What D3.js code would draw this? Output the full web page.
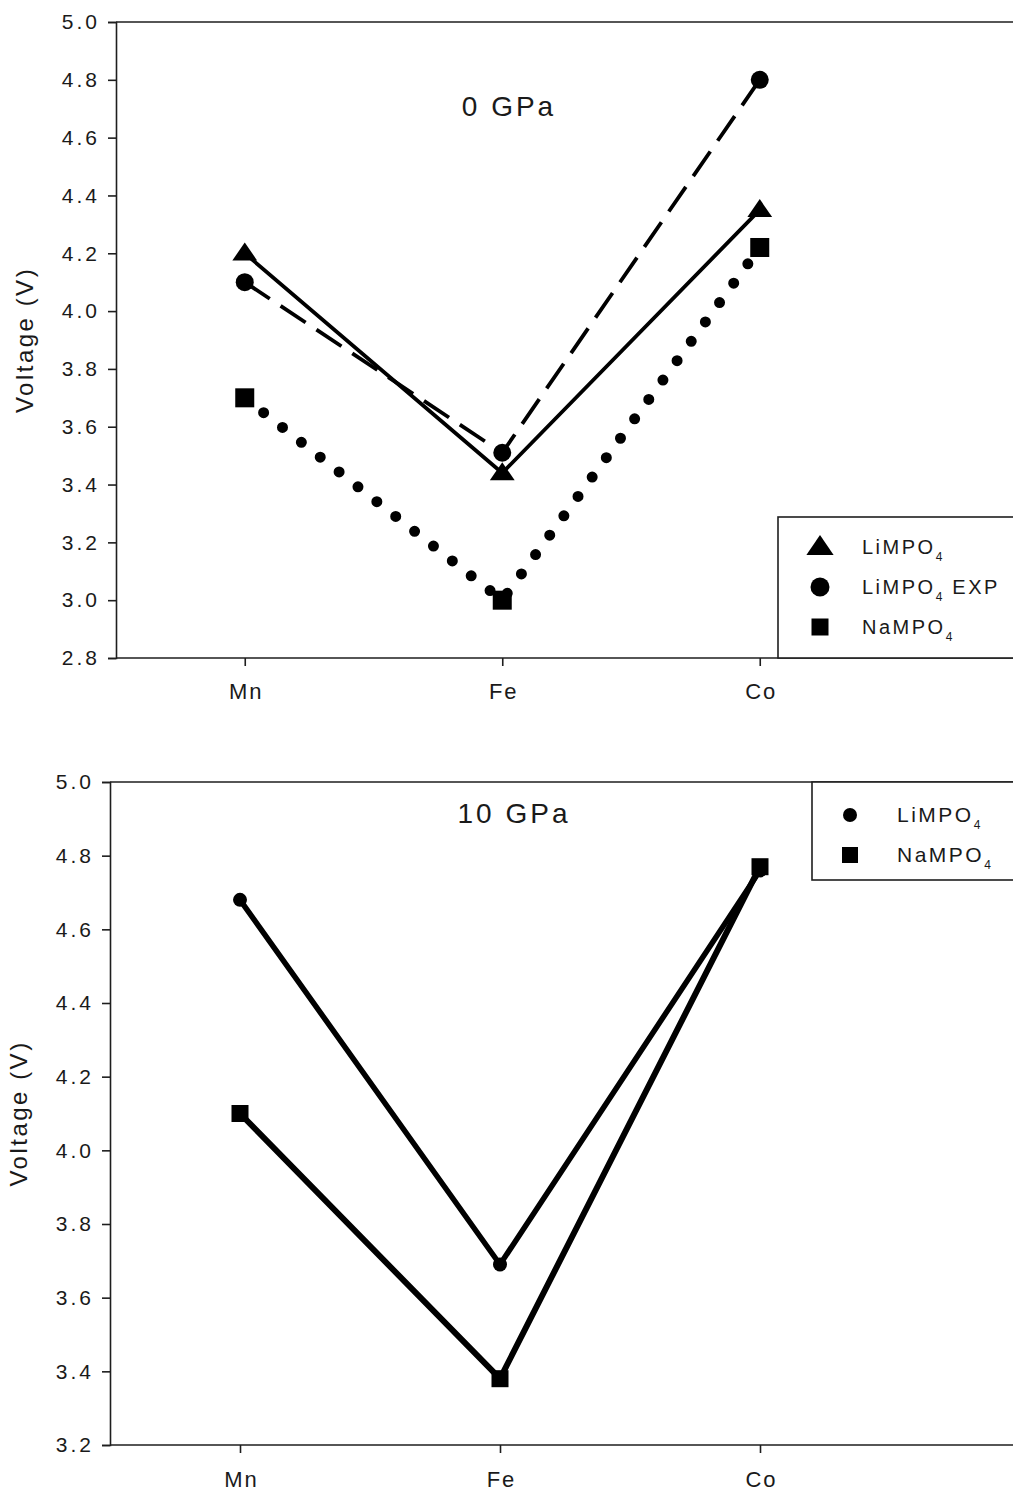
<!DOCTYPE html>
<html>
<head>
<meta charset="utf-8">
<script src="https://cdn.jsdelivr.net/npm/d3@7"></script>
<style>
  body { margin: 0; background: #fff; }
  svg { display: block; font-family: "Liberation Sans", Arial, sans-serif; }
</style>
</head>
<body>
<svg id="chart" width="1013" height="1494"></svg>
<script>
// Transition metals on the x axis
const metals = ["Mn", "Fe", "Co"];

// 0 GPa voltages (V)
const li0 = [4.20, 3.44, 4.35];
const liExp0 = [4.10, 3.51, 4.80];
const na0 = [3.70, 3.00, 4.22];

// 10 GPa voltages (V)
const li10 = [4.68, 3.69, 4.76];
const na10 = [4.10, 3.38, 4.77];

// Tick values
const yTicksTop = [2.8, 3.0, 3.2, 3.4, 3.6, 3.8, 4.0, 4.2, 4.4, 4.6, 4.8, 5.0];
const yTicksBottom = [3.2, 3.4, 3.6, 3.8, 4.0, 4.2, 4.4, 4.6, 4.8, 5.0];

const svg = d3.select("#chart");
const ink = "#000";
const axisInk = "#1e1e1e";
const textInk = "#1a1a1a";
const FONT = "Liberation Sans, Arial, sans-serif";
const edge = 1013 + 20; // frame runs past the right edge of the page

function drawMarker(g, shape, x, y, size) {
  if (shape === "triangle") {
    const w = size * 0.62, h = size * 0.9;
    g.append("path")
      .attr("d", `M${x},${y - h * 0.6} L${x + w},${y + h * 0.4} L${x - w},${y + h * 0.4} Z`)
      .attr("fill", ink);
  } else if (shape === "circle") {
    g.append("circle").attr("cx", x).attr("cy", y).attr("r", size / 2).attr("fill", ink);
  } else {
    g.append("rect").attr("x", x - size / 2).attr("y", y - size / 2)
      .attr("width", size).attr("height", size).attr("fill", ink);
  }
}

function panel(cfg) {
  const g = svg.append("g");
  const x = d3.scaleLinear().domain([0.5, 3.5]).range([cfg.left, cfg.left + 3 * cfg.step]);
  const y = d3.scaleLinear().domain(cfg.yDomain).range([cfg.bottom, cfg.top]);

  // top border and bottom axis line, both across the full width
  [cfg.top, cfg.bottom].forEach(yy => {
    g.append("line").attr("x1", cfg.left).attr("x2", edge).attr("y1", yy).attr("y2", yy)
      .attr("stroke", axisInk).attr("stroke-width", 1.6);
  });

  const yAxis = d3.axisLeft(y).tickValues(cfg.yTicks).tickFormat(d3.format(".1f"))
    .tickSize(8).tickPadding(8);
  const ya = g.append("g").attr("transform", `translate(${cfg.left},0)`).call(yAxis);
  ya.select(".domain").attr("stroke", axisInk).attr("stroke-width", 1.6);
  ya.selectAll(".tick line").attr("stroke", axisInk).attr("stroke-width", 1.6);
  ya.selectAll("text").attr("font-size", 21).attr("letter-spacing", 3).attr("fill", textInk)
    .attr("font-family", FONT);

  const xAxis = d3.axisBottom(x).tickValues([1, 2, 3]).tickFormat(i => metals[i - 1])
    .tickSize(8).tickPadding(cfg.xPad);
  const xa = g.append("g").attr("transform", `translate(0,${cfg.bottom})`).call(xAxis);
  xa.select(".domain").remove();
  xa.selectAll(".tick line").attr("stroke", axisInk).attr("stroke-width", 1.6);
  xa.selectAll("text").attr("font-size", 22).attr("letter-spacing", 2).attr("fill", textInk)
    .attr("font-family", FONT).attr("dx", 1);

  // y axis title
  g.append("text")
    .attr("transform", `translate(${cfg.titleX},${(cfg.top + cfg.bottom) / 2}) rotate(-90)`)
    .attr("text-anchor", "middle").attr("font-size", 24).attr("letter-spacing", 2.5)
    .attr("fill", textInk).text("Voltage (V)");

  // panel label
  g.append("text").attr("x", cfg.labelX).attr("y", cfg.labelY)
    .attr("text-anchor", "middle").attr("font-size", 28).attr("letter-spacing", 3)
    .attr("fill", textInk).text(cfg.label);

  const line = d3.line().x((d, i) => x(i + 1)).y(d => y(d));

  cfg.series.forEach(s => {
    g.append("path").datum(s.values).attr("d", line)
      .attr("fill", "none").attr("stroke", ink)
      .attr("stroke-width", s.width)
      .attr("stroke-dasharray", s.dash || null)
      .attr("stroke-linecap", s.cap || "butt")
      .attr("stroke-linejoin", "round");
    s.values.forEach((v, i) => drawMarker(g, s.shape, x(i + 1), y(v), s.size));
  });

  // legend
  const L = cfg.legend;
  const lg = g.append("g");
  lg.append("rect").attr("x", L.x).attr("y", L.y)
    .attr("width", edge - L.x).attr("height", L.h)
    .attr("fill", "#fff").attr("stroke", axisInk).attr("stroke-width", 1.6);
  cfg.series.forEach((s, i) => {
    const cy = L.y + L.first + i * L.gap;
    drawMarker(lg, s.shape, L.x + L.markX, cy, s.legendSize);
    const t = lg.append("text").attr("x", L.x + L.textX).attr("y", cy + 7)
      .attr("font-size", L.font).attr("letter-spacing", L.ls).attr("fill", textInk);
    t.append("tspan").text(s.name[0]);
    t.append("tspan").attr("font-size", 12).attr("letter-spacing", 0).attr("dy", 7).text("4");
    if (s.name[1]) t.append("tspan").attr("dy", -7).attr("dx", 2).text(" " + s.name[1]);
  });
}

panel({
  left: 116, step: 257.5, top: 22, bottom: 658,
  yDomain: [2.8, 5.0], yTicks: yTicksTop, xPad: 17,
  titleX: 33, label: "0 GPa", labelX: 509, labelY: 116,
  series: [
    { name: ["LiMPO", null], values: li0, shape: "triangle", size: 20, legendSize: 22, width: 3.8 },
    { name: ["LiMPO", "EXP"], values: liExp0, shape: "circle", size: 18, legendSize: 19, width: 3.8, dash: "30 13" },
    { name: ["NaMPO", null], values: na0, shape: "square", size: 19, legendSize: 17, width: 11, dash: "0 24", cap: "round" }
  ],
  legend: { x: 778, y: 517, h: 141, first: 30, gap: 40, markX: 42, textX: 84, font: 20, ls: 2.5 }
});

panel({
  left: 110, step: 260, top: 782, bottom: 1445,
  yDomain: [3.2, 5.0], yTicks: yTicksBottom, xPad: 18,
  titleX: 27, label: "10 GPa", labelX: 514, labelY: 823,
  series: [
    { name: ["LiMPO", null], values: li10, shape: "circle", size: 14, legendSize: 14, width: 5.5 },
    { name: ["NaMPO", null], values: na10, shape: "square", size: 17, legendSize: 16, width: 6 }
  ],
  legend: { x: 812, y: 782, h: 98, first: 33, gap: 40, markX: 38, textX: 85, font: 21, ls: 2.5 }
});
</script>
</body>
</html>
